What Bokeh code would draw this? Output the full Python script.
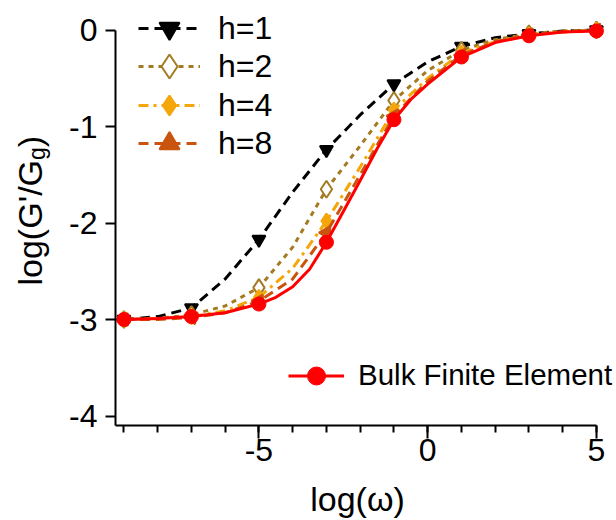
import math
from bokeh.plotting import figure
from bokeh.models import (Legend, LegendItem, Label, FixedTicker, Range1d)
from bokeh.embed import file_html
from bokeh.resources import INLINE

# ---------------- data ----------------
x_line = [-9, -8, -7, -6, -5, -4, -3, -2, -1, 0, 1, 2, 3, 4, 5]
h1_line = [-3.00, -2.97, -2.88, -2.58, -2.17, -1.68, -1.24, -0.88, -0.56, -0.33, -0.17, -0.08, -0.04, -0.01, 0.00]
h2_line = [-3.00, -2.99, -2.95, -2.86, -2.67, -2.25, -1.65, -1.20, -0.73, -0.42, -0.21, -0.10, -0.04, -0.01, 0.00]
h4_line = [-3.00, -2.99, -2.97, -2.91, -2.77, -2.47, -1.98, -1.42, -0.83, -0.50, -0.24, -0.12, -0.05, -0.02, 0.00]
h8_line = [-3.00, -3.00, -2.98, -2.93, -2.81, -2.58, -2.10, -1.50, -0.89, -0.53, -0.26, -0.12, -0.05, -0.02, -0.005]

bulk_x = [-9, -8, -7, -6, -5, -4.5, -4, -3.5, -3, -2.5, -2, -1.5, -1, -0.5, 0, 1, 2, 3, 4, 5]
bulk_line = [-3.00, -2.99, -2.97, -2.93, -2.84, -2.77, -2.66, -2.48, -2.20, -1.88, -1.56, -1.23,
             -0.93, -0.72, -0.56, -0.28, -0.13, -0.06, -0.02, -0.01]

x_mark = [-9, -7, -5, -3, -1, 1, 3, 5]
h1_mark = [-3.00, -2.88, -2.17, -1.24, -0.56, -0.17, -0.04, 0.00]
h2_mark = [-3.00, -2.95, -2.67, -1.65, -0.73, -0.21, -0.04, 0.00]
h4_mark = [-3.00, -2.97, -2.77, -1.98, -0.83, -0.24, -0.05, 0.00]
h8_mark = [-3.00, -2.98, -2.81, -2.10, -0.89, -0.26, -0.05, 0.00]
bulk_mark = [-3.00, -2.97, -2.84, -2.20, -0.93, -0.28, -0.06, -0.01]

series_labels = ["h=1", "h=2", "h=4", "h=8"]
bulk_label = "Bulk Finite Element"

x_major_ticks = [-5, 0, 5]
x_major_labels = ["-5", "0", "5"]
x_minor_ticks = [-9, -8, -7, -6, -5, -4, -3, -2, -1, 0, 1, 2, 3, 4, 5]
y_ticks = [0, -1, -2, -3, -4]
y_tick_labels = ["0", "-1", "-2", "-3", "-4"]

x_title = "log(\u03c9)"
y_title_main = "log(G'/G"
y_title_sub = "g"
y_title_end = ")"

# ---------------- figure ----------------
FONT = "Liberation Sans"
W, H = 616, 520
PX_PER_X = 33.75          # px per x unit
PX_PER_Y = 96.5           # px per y unit
X_AXIS_START = -9.25      # where the x axis line starts (and y axis sits)
Y_AXIS_START = -4.1       # where the y axis line starts (and x axis sits)
x0 = X_AXIS_START - 115 / PX_PER_X
y1 = 29.5 / PX_PER_Y
p = figure(width=W, height=H,
           x_range=Range1d(x0, x0 + W / PX_PER_X),
           y_range=Range1d(y1 - H / PX_PER_Y, y1),
           output_backend="svg", toolbar_location=None,
           min_border_left=0, min_border_right=0, min_border_top=0, min_border_bottom=0)
p.outline_line_color = None
p.xgrid.visible = False
p.ygrid.visible = False
p.background_fill_color = "white"

styles = [
    dict(color="#000000", dash="10 6", marker="inverted_triangle", fill="#000000", size=13, angle=0.0),
    dict(color="#A47A22", dash="5 5", marker="diamond", fill="white", size=17, angle=0.0),
    dict(color="#F5A60A", dash="10 5 3 5", marker="diamond", fill="#F5A60A", size=15, angle=0.0),
    dict(color="#C9540E", dash="10 6", marker="triangle", fill="#C9540E", size=13, angle=math.pi / 2),
]
lines = [h1_line, h2_line, h4_line, h8_line]
marks = [h1_mark, h2_mark, h4_mark, h8_mark]

renderer_sets = []
for st, yl, ym in zip(styles, lines, marks):
    lr = p.line(x_line, yl, line_color=st["color"], line_width=3, line_dash=st["dash"],
                line_join="round")
    sr = p.scatter(x_mark, ym, marker=st["marker"], size=st["size"], angle=st["angle"],
                   line_color=st["color"], fill_color=st["fill"], line_width=2)
    renderer_sets.append([lr, sr])

bl = p.line(bulk_x, bulk_line, line_color="#FF0000", line_width=3, line_join="round")
bs = p.scatter(x_mark, bulk_mark, marker="circle", size=14, line_color="#FF0000",
               fill_color="#FF0000")

# ---------------- axes ----------------
xa = p.xaxis[0]
xa.fixed_location = Y_AXIS_START
xa.ticker = FixedTicker(ticks=x_major_ticks, minor_ticks=x_minor_ticks)
xa.major_label_overrides = {t: s for t, s in zip(x_major_ticks, x_major_labels)}
xa.bounds = (X_AXIS_START, 5)
xa.major_tick_out = 13
xa.major_tick_in = 0
xa.minor_tick_out = 7
xa.minor_tick_in = 0
xa.major_label_standoff = 0

ya = p.yaxis[0]
ya.fixed_location = X_AXIS_START
ya.ticker = FixedTicker(ticks=y_ticks, minor_ticks=[])
ya.major_label_overrides = {t: s for t, s in zip(y_ticks, y_tick_labels)}
ya.bounds = (Y_AXIS_START, 0)
ya.major_tick_out = 10
ya.major_tick_in = 0
ya.minor_tick_out = 0
ya.minor_tick_in = 0
ya.major_label_standoff = 8

for ax in (xa, ya):
    ax.axis_line_width = 2
    ax.major_tick_line_width = 2
    ax.minor_tick_line_width = 2
    ax.axis_line_color = "black"
    ax.major_tick_line_color = "black"
    ax.minor_tick_line_color = "black"
    ax.major_label_text_font = FONT
    ax.major_label_text_font_size = "32px"
    ax.major_label_text_color = "black"

# axis titles as text annotations (screen px relative to the frame's bottom-left)
p.add_layout(Label(x=357, y=H - 498, x_units="screen", y_units="screen", text=x_title,
                   text_font=FONT, text_font_size="34px", text_align="center",
                   text_baseline="middle", text_color="black"))

ybase_x = 29
ystart = H - 285
main_w = 3.692 * 34
p.add_layout(Label(x=ybase_x, y=ystart, x_units="screen", y_units="screen", angle=math.pi / 2,
                   text=y_title_main, text_font=FONT, text_font_size="34px",
                   text_align="left", text_baseline="alphabetic", text_color="black"))
p.add_layout(Label(x=ybase_x + 7, y=ystart + main_w, x_units="screen", y_units="screen",
                   angle=math.pi / 2, text=y_title_sub, text_font=FONT, text_font_size="23px",
                   text_align="left", text_baseline="alphabetic", text_color="black"))
p.add_layout(Label(x=ybase_x, y=ystart + main_w + 0.556 * 23, x_units="screen", y_units="screen",
                   angle=math.pi / 2, text=y_title_end, text_font=FONT, text_font_size="34px",
                   text_align="left", text_baseline="alphabetic", text_color="black"))

# ---------------- legends ----------------
row_centers = [28, 66, 105, 143]
glyph_heights = [50, 60, 50, 50]
for lab, rends, cy, gh in zip(series_labels, renderer_sets, row_centers, glyph_heights):
    leg = Legend(items=[LegendItem(label=lab, renderers=rends)],
                 location=(138, H - gh / 2 - cy),
                 glyph_width=62, glyph_height=gh, label_standoff=18,
                 padding=0, margin=0, spacing=0,
                 border_line_alpha=0, background_fill_alpha=0,
                 label_text_font=FONT, label_text_font_size="32px", label_text_color="black")
    p.add_layout(leg)

bgh = 45
bleg = Legend(items=[LegendItem(label=bulk_label, renderers=[bl, bs])],
              location=(288, H - bgh / 2 - 375),
              glyph_width=56, glyph_height=bgh, label_standoff=14,
              padding=0, margin=0, spacing=0,
              border_line_alpha=0, background_fill_alpha=0,
              label_text_font=FONT, label_text_font_size="29.5px", label_text_color="black")
p.add_layout(bleg)

open("out.html", "w").write(file_html(p, INLINE))
